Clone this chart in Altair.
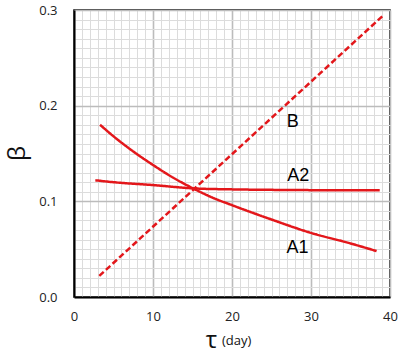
import altair as alt
import pandas as pd

# Series
a1_x = [3.3, 5.0, 6.7, 10.0, 12.5, 15.2, 17.5, 20.0, 25.0, 30.0, 35.0, 38.3]
a1_y = [0.180, 0.168, 0.157, 0.138, 0.125, 0.113, 0.104, 0.096, 0.081, 0.067, 0.056, 0.048]
a2_x = [2.7, 5.0, 10.0, 15.2, 20.0, 25.0, 30.0, 38.7]
a2_y = [0.122, 0.120, 0.117, 0.1135, 0.1125, 0.112, 0.1117, 0.1115]
b_x = [3.2, 39.1]
b_y = [0.022, 0.294]

label_text = ["B", "A2", "A1"]
label_x = [27.7, 28.4, 28.3]
label_y = [0.183, 0.126, 0.051]

x_ticks = list(range(0, 41))
y_ticks = [round(i * 0.01, 2) for i in range(31)]

rows = []
for name, xs, ys in [("A1", a1_x, a1_y), ("A2", a2_x, a2_y), ("B", b_x, b_y)]:
    for xv, yv in zip(xs, ys):
        rows.append({"series": name, "tau": xv, "beta": yv})
df = pd.DataFrame(rows)
labels = pd.DataFrame({"text": label_text, "tau": label_x, "beta": label_y})

FONT = "Open Sans"
RED = "#e3171b"

x_major = "datum.value % 10 === 0"
y_major = "abs(datum.value*10 - round(datum.value*10)) < 1e-6"

x_axis = alt.Axis(
    values=x_ticks,
    tickCount=200,
    grid=True,
    gridColor=alt.ExprRef(expr=f"{x_major} ? '#bcbcbc' : '#dcdcdc'"),
    gridWidth=alt.ExprRef(expr=f"{x_major} ? 1.6 : 1"),
    labelExpr=f"{x_major} ? format(datum.value, 'd') : ''",
    labelFlush=False,
    labelOverlap=False,
    labelBound=False,
    ticks=False,
    tickSize=0,
    labelPadding=13,
    labelFont=FONT,
    labelFontSize=13,
    labelColor="#222222",
    domainColor="black",
    domainWidth=2,
    title="τ",
    titleFont=FONT,
    titleFontSize=24,
    titleFontWeight="normal",
    titleColor="#111111",
    titleX=137,
    titleY=50,
    titleAlign="center",
    titleBaseline="alphabetic",
)

y_axis = alt.Axis(
    values=y_ticks,
    tickCount=200,
    grid=True,
    gridColor=alt.ExprRef(expr=f"{y_major} ? '#bcbcbc' : '#dcdcdc'"),
    gridWidth=alt.ExprRef(expr=f"{y_major} ? 1.6 : 1"),
    labelExpr=f"{y_major} ? format(datum.value, '.1f') : ''",
    labelOverlap=False,
    ticks=False,
    tickSize=0,
    labelPadding=17,
    labelFont=FONT,
    labelFontSize=13,
    labelColor="#222222",
    domainColor="black",
    domainWidth=2,
    title="β",
    titleFont=FONT,
    titleFontSize=24,
    titleFontWeight="normal",
    titleColor="#111111",
    titleX=-57,
    titleY=143,
    titleAngle=270,
    titleAlign="center",
    titleBaseline="middle",
)

x_enc = alt.X("tau:Q", scale=alt.Scale(domain=[0, 40], nice=False), axis=x_axis)
y_enc = alt.Y("beta:Q", scale=alt.Scale(domain=[0, 0.3], nice=False), axis=y_axis)

lines = alt.Chart(df).mark_line(strokeWidth=2.5, interpolate="monotone", color=RED).encode(
    x=x_enc,
    y=y_enc,
    detail="series:N",
    strokeDash=alt.StrokeDash(
        "series:N",
        scale=alt.Scale(domain=["A1", "A2", "B"], range=[[1, 0], [1, 0], [6, 3]]),
        legend=None,
    ),
)

text = alt.Chart(labels).mark_text(
    font="Liberation Sans", fontSize=18, color="black", align="center", baseline="middle"
).encode(x="tau:Q", y="beta:Q", text="text:N")

day = alt.Chart(pd.DataFrame({"t": ["(day)"]})).mark_text(
    font=FONT, fontSize=13, color="#111111", align="left", baseline="alphabetic"
).encode(x=alt.value(148), y=alt.value(335), text="t:N")

chart = alt.layer(lines, text, day).properties(
    width=316,
    height=287,
    padding={"left": 74, "top": 10, "right": 10, "bottom": 57},
    autosize=alt.AutoSizeParams(type="none"),
    background="white",
).configure_view(stroke="black", strokeWidth=1.5)

chart.save("out.html", embed_options={"renderer": "svg", "actions": False})
